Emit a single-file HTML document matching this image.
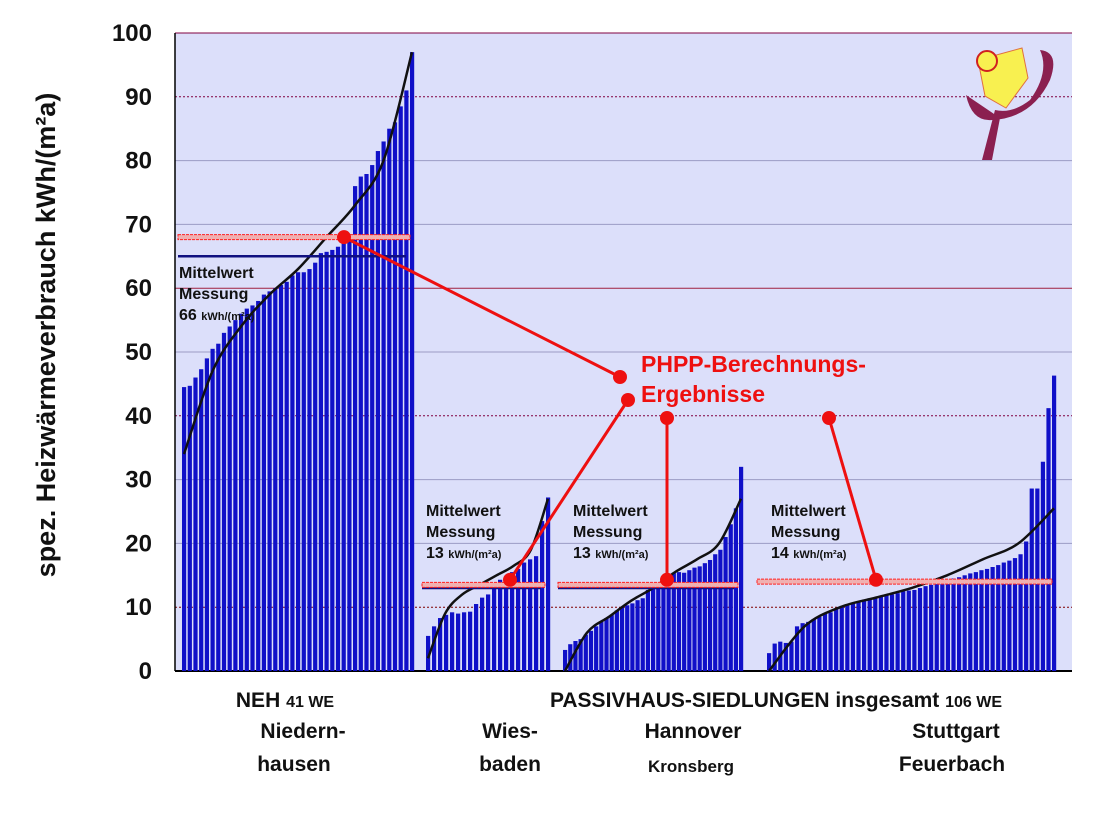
<!DOCTYPE html>
<html><head><meta charset="utf-8"><style>
body{margin:0;background:#fff;width:1098px;height:809px;overflow:hidden;font-family:"Liberation Sans",sans-serif}
svg text{font-family:"Liberation Sans",sans-serif;font-weight:bold}
</style></head><body>
<svg id="c" width="1098" height="809"></svg>
<script>
const ticks=[0,10,20,30,40,50,60,70,80,90,100];
const nehValues=[44.5,44.7,46,47.3,49,50.5,51.3,53,54,55,56,56.8,57.3,58,59,59.5,60,60.5,61,62,62.5,62.5,63,64,65.5,65.7,66,66.5,67,68,76,77.5,77.9,79.3,81.5,83,85,86,88.5,91,97];
const wiesValues=[5.5,7,8.3,8.8,9.2,9,9.2,9.3,10.5,11.5,12,13.5,14.3,14.5,15.5,16,17,17.5,18,23.5,27.2];
const hannValues=[3.3,4.2,4.7,5,5.7,6.3,7,7.7,8.3,8.8,9.5,10,10.3,10.6,11.1,11.4,12.7,13,13.6,14.1,15.2,15.4,15.5,15.4,15.8,16.2,16.4,16.9,17.4,18.3,19,21,23,25.5,32];
const stutValues=[2.8,4.3,4.6,4.4,4.6,7,7.5,7.7,8.1,8.5,9,9.2,9.8,10.2,10.5,10.7,10.8,11.2,11.4,11.4,11.8,12,12,12.2,12.5,12.6,12.7,13,13.3,13.5,13.7,14,14.2,14.5,14.7,15,15.3,15.5,15.8,16,16.3,16.6,17,17.3,17.7,18.3,20.3,28.6,28.6,32.8,41.2,46.3];
const nehFit=[34,47,54,59,63,68,73,80,97];
const wiesFit=[2,9,12,13.5,15,16.5,19,27];
const hannFit=[0,6,8.5,11,13,15.5,17.5,20,27];
const stutFit=[0,7,10,11.5,13,15,17.5,20,25.5];
const phppValues=[68,13.5,13.5,14];
const meanValues=[65,13,13,14];

const svg=document.getElementById('c');const NS='http://www.w3.org/2000/svg';
const X0=175,X1=1072,Y0=671,Y100=33;
const y=v=>Y0-(Y0-Y100)*v/100;
function mk(t,a,p){const e=document.createElementNS(NS,t);for(const k in a)e.setAttribute(k,a[k]);(p||svg).appendChild(e);return e;}
function txt(x,yy,s,size,fill,anchor,name){const e=mk('text',{x:x,y:yy,'font-size':size,fill:fill||'#000','text-anchor':anchor||'start'});e.textContent=s;


return e;}
const bg=mk('rect',{x:X0,y:Y100,width:X1-X0,height:Y0-Y100,fill:'#dcdffa'});


const gcol={0:'#000',10:'#800000',20:'#9b9bc4',30:'#9b9bc4',40:'#800040',50:'#9b9bc4',60:'#a02040',70:'#9b9bc4',80:'#9b9bc4',90:'#800040',100:'#800040'};
ticks.forEach(t=>{
 const l=mk('line',{x1:X0,x2:X1,y1:y(t),y2:y(t),stroke:gcol[t],'stroke-width':t==0?2:1,'stroke-dasharray':(t==10||t==40||t==90)?'2,2':''});
 
 
 txt(152,y(t)+8,String(t),24,'#111','end','y-tick-'+t);
});
const ax=mk('line',{x1:X0,x2:X0,y1:Y100,y2:Y0,stroke:'#000','stroke-width':1.5});


function group(vals,fit,xa,xb,name){
 const n=vals.length,p=(xb-xa)/(n-1);
 vals.forEach((v,i)=>{const r=mk('rect',{x:xa+i*p-2,y:y(v),width:4.2,height:Y0-y(v),fill:'#1010c8'});
 
 });
 const m=fit.length,pts=fit.map((v,i)=>[xa+i*(xb-xa)/(m-1),y(v)]);
 let d='M'+pts[0];
 for(let i=0;i<m-1;i++){const p0=pts[Math.max(0,i-1)],p1=pts[i],p2=pts[i+1],p3=pts[Math.min(m-1,i+2)];
  d+=' C'+(p1[0]+(p2[0]-p0[0])/6)+','+(p1[1]+(p2[1]-p0[1])/6)+' '+(p2[0]-(p3[0]-p1[0])/6)+','+(p2[1]-(p3[1]-p1[1])/6)+' '+p2;}
 const c=mk('path',{d:d,fill:'none',stroke:'#111','stroke-width':2.5});
 
 
}
group(nehValues,nehFit,184,412,'neh');
group(wiesValues,wiesFit,428,548,'wiesbaden');
group(hannValues,hannFit,565,741,'hannover');
group(stutValues,stutFit,769,1054,'stuttgart');
const spans=[[178,410],[422,545],[558,738],[757,1052]];
const names=['neh','wiesbaden','hannover','stuttgart'];
spans.forEach((s,i)=>{
 const m=mk('line',{x1:s[0],x2:s[1]-4,y1:y(meanValues[i]),y2:y(meanValues[i]),stroke:'#101080','stroke-width':2.5});
 
 
 const r=mk('rect',{x:s[0],y:y(phppValues[i])-2.5,width:s[1]-s[0],height:5,fill:'#f0b0b0',stroke:'#ff2020','stroke-width':1,'stroke-dasharray':'3,1'});
 
 
});
const conns=[[344,y(68),620,377],[510,y(14.3),628,400],[667,y(14.3),667,418],[876,y(14.3),829,418]];
conns.forEach((c,i)=>{
 const l=mk('line',{x1:c[0],y1:c[1],x2:c[2],y2:c[3],stroke:'#ee1010','stroke-width':3});
 
 
 [[c[0],c[1]],[c[2],c[3]]].forEach(p=>{const d=mk('circle',{cx:p[0],cy:p[1],r:7,fill:'#ee1010'});
 
 });
});
txt(641,372,'PHPP-Berechnungs-',23,'#ee1010','start','phpp-title');
txt(641,402,'Ergebnisse',23,'#ee1010','start','phpp-title-2');
function mw(x,yy,val,name){txt(x,yy,'Mittelwert',16,'#111','start',name+'-mw1');txt(x,yy+21,'Messung',16,'#111','start',name+'-mw2');
 const t=txt(x,yy+42,val+' ',16,'#111','start',name+'-mw3');const s=document.createElementNS(NS,'tspan');s.setAttribute('font-size','11');s.textContent='kWh/(m²a)';t.appendChild(s);}
mw(179,278,'66','neh');mw(426,516,'13','wiesbaden');mw(573,516,'13','hannover');mw(771,516,'14','stuttgart');
const yl=txt(0,0,'spez. Heizwärmeverbrauch  kWh/(m²a)',27,'#111','middle','y-axis-title');yl.setAttribute('transform','translate(55,335) rotate(-90)');
function lbl(x,yy,big,small,name){const t=txt(x,yy,big,21,'#111','middle',name);if(small){const s=document.createElementNS(NS,'tspan');s.setAttribute('font-size','16');s.textContent=small;t.appendChild(s);}}
lbl(285,707,'NEH ','41 WE','neh-label');lbl(303,738,'Niedern-','','neh-label-2');lbl(294,771,'hausen','','neh-label-3');
lbl(776,707,'PASSIVHAUS-SIEDLUNGEN insgesamt ','106 WE','passiv-label');
lbl(510,738,'Wies-','','wies-label');lbl(510,771,'baden','','wies-label-2');
lbl(693,738,'Hannover','','hann-label');
txt(691,772,'Kronsberg',17,'#111','middle','hann-label-2');
lbl(956,738,'Stuttgart','','stut-label');lbl(952,771,'Feuerbach','','stut-label-2');
const g=mk('g',{});
mk('polygon',{points:'978,60 1022,48 1028,78 1006,108 985,96',fill:'#f8f050',stroke:'#e07040','stroke-width':1},g);
mk('path',{d:'M966,95 Q972,122 992,120 Q1032,118 1050,80 Q1060,52 1040,50 Q1050,72 1030,100 Q1012,114 995,110 L982,160 L992,160 L1000,118',fill:'#8b2050'},g);
mk('circle',{cx:987,cy:61,r:10,fill:'#f8f050',stroke:'#d02020','stroke-width':2},g);
</script>
</body></html>
